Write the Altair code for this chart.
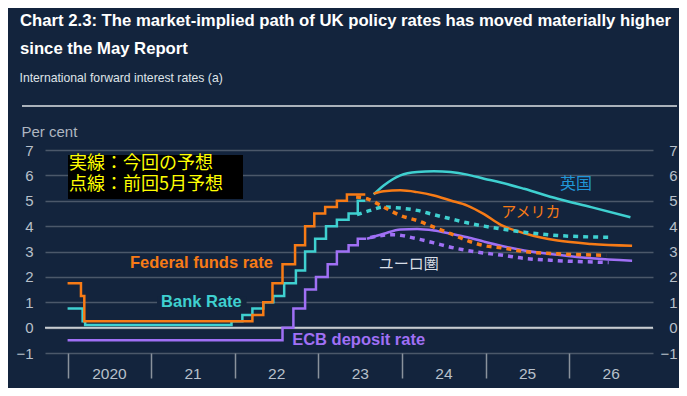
import altair as alt
import pandas as pd

BG = "#13243d"
TEAL = "#3fd0d0"
ORANGE = "#f77b16"
PURPLE = "#a070f5"
GRID = "#4b586a"
LABEL = "#b8c0ca"
SANS = "Liberation Sans"
CJK = "Noto Sans CJK JP"

# ---- realised policy rates (step lines) ----
bank_x = [2020.0, 2020.18, 2020.21, 2021.96, 2022.09, 2022.21, 2022.34, 2022.46, 2022.59,
          2022.73, 2022.84, 2022.96, 2023.09, 2023.22, 2023.36, 2023.47, 2023.56]
bank_y = [0.75, 0.25, 0.1, 0.25, 0.5, 0.75, 1.0, 1.25, 1.75,
          2.25, 3.0, 3.5, 4.0, 4.25, 4.5, 5.0, 5.0]
fed_x = [2020.0, 2020.16, 2020.2, 2022.21, 2022.34, 2022.45, 2022.57, 2022.72, 2022.84,
         2022.95, 2023.08, 2023.22, 2023.34, 2023.56]
fed_y = [1.75, 1.25, 0.25, 0.5, 1.0, 1.75, 2.5, 3.25, 4.0,
         4.5, 4.75, 5.0, 5.25, 5.25]
ecb_x = [2020.0, 2022.57, 2022.70, 2022.84, 2022.97, 2023.11, 2023.22, 2023.36, 2023.47, 2023.57]
ecb_y = [-0.5, 0.0, 0.75, 1.5, 2.0, 2.5, 3.0, 3.25, 3.5, 3.5]

# ---- current market-implied paths (solid) ----
uk_fwd_x = [2023.66, 2023.78, 2023.98, 2024.18, 2024.38, 2024.58, 2024.78, 2024.98,
            2025.18, 2025.46, 2025.86, 2026.26, 2026.73]
uk_fwd_y = [5.25, 5.6, 6.0, 6.13, 6.16, 6.13, 6.03, 5.87, 5.72, 5.47, 5.08, 4.75, 4.35]
us_fwd_x = [2023.66, 2023.78, 2023.98, 2024.18, 2024.38, 2024.58, 2024.78, 2024.98,
            2025.18, 2025.46, 2025.86, 2026.26, 2026.75]
us_fwd_y = [5.28, 5.37, 5.41, 5.34, 5.21, 5.01, 4.81, 4.47, 4.05, 3.72, 3.43, 3.30, 3.23]
ea_fwd_x = [2023.58, 2023.78, 2023.98, 2024.18, 2024.38, 2024.58, 2024.78, 2024.98,
            2025.18, 2025.46, 2025.86, 2026.26, 2026.75]
ea_fwd_y = [3.5, 3.70, 3.87, 3.89, 3.83, 3.70, 3.56, 3.39, 3.23, 3.04, 2.87, 2.73, 2.64]

# ---- May Report paths (dotted) ----
uk_may_x = [2023.46, 2023.62, 2023.78, 2023.98, 2024.18, 2024.38, 2024.58, 2024.78,
            2024.98, 2025.18, 2025.46, 2025.86, 2026.47]
uk_may_y = [4.45, 4.62, 4.75, 4.71, 4.62, 4.45, 4.29, 4.13, 4.0, 3.89, 3.76, 3.63, 3.56]
us_may_x = [2023.45, 2023.58, 2023.78, 2023.98, 2024.18, 2024.38, 2024.58, 2024.78,
            2024.98, 2025.18, 2025.46, 2025.86, 2026.44]
us_may_y = [5.15, 5.08, 4.75, 4.42, 4.22, 3.96, 3.70, 3.43, 3.23, 3.15, 3.0, 2.91, 2.85]
ea_may_x = [2023.62, 2023.78, 2023.90, 2024.18, 2024.38, 2024.58, 2024.78, 2024.98,
            2025.18, 2025.46, 2025.86, 2026.47]
ea_may_y = [3.55, 3.64, 3.66, 3.5, 3.34, 3.17, 3.04, 2.94, 2.86, 2.73, 2.64, 2.57]

year_ticks = [2020, 2021, 2022, 2023, 2024, 2025, 2026]
year_label_pos = [2020.5, 2021.5, 2022.5, 2023.5, 2024.5, 2025.5, 2026.5]
year_labels = ["2020", "21", "22", "23", "24", "25", "26"]
y_ticks = [-1, 0, 1, 2, 3, 4, 5, 6, 7]

title_lines = ["Chart 2.3: The market-implied path of UK policy rates has moved materially higher",
               "since the May Report"]
subtitle = "International forward interest rates (a)"
legend_lines = ["実線：今回の予想", "点線：前回5月予想"]


def frame(xs, ys, series):
    return pd.DataFrame({"year": xs, "value": ys, "series": series})


steps = pd.concat([frame(bank_x, bank_y, "UK"), frame(fed_x, fed_y, "US"), frame(ecb_x, ecb_y, "EA")])
fwd = pd.concat([frame(uk_fwd_x, uk_fwd_y, "UK"), frame(us_fwd_x, us_fwd_y, "US"), frame(ea_fwd_x, ea_fwd_y, "EA")])
may = pd.concat([frame(uk_may_x, uk_may_y, "UK"), frame(us_may_x, us_may_y, "US"), frame(ea_may_x, ea_may_y, "EA")])

xscale = alt.Scale(domain=[2019.73, 2027.0], nice=False, zero=False)
yscale = alt.Scale(domain=[-1, 7], nice=False, zero=False)
X = alt.X("year:Q", scale=xscale,
          axis=alt.Axis(values=year_ticks, labels=False, tickSize=25, tickColor="#8a929c",
                        tickWidth=1.5, domain=False, grid=False, title=None))
Y = alt.Y("value:Q", scale=yscale,
          axis=alt.Axis(values=y_ticks, grid=True, gridColor=GRID, gridWidth=1.5, domain=False,
                        ticks=False, tickSize=0, labelPadding=12, labelFontSize=15, labelFont=SANS,
                        labelColor=LABEL, title=None))
color = alt.Color("series:N", scale=alt.Scale(domain=["UK", "US", "EA"], range=[TEAL, ORANGE, PURPLE]),
                  legend=None)

step_lines = alt.Chart(steps).mark_line(interpolate="step-after", strokeWidth=2.5).encode(
    x=X, y=Y, color=color, detail="series:N")
fwd_lines = alt.Chart(fwd).mark_line(interpolate="monotone", strokeWidth=2.5).encode(
    x=X, y=Y, color=color, detail="series:N")
may_lines = alt.Chart(may).mark_line(interpolate="monotone", strokeWidth=3.5, strokeDash=[5, 5]).encode(
    x=X, y=Y, color=color, detail="series:N")

# label backdrop for "Bank Rate"
backdrop = alt.Chart(pd.DataFrame({"year": [2021.07], "year2": [2022.14], "value": [0.82], "value2": [1.22]})
                     ).mark_rect(color=BG).encode(x=X, x2="year2:Q", y=Y, y2="value2:Q")

year_text = alt.Chart(pd.DataFrame({"year": year_label_pos, "label": year_labels})).mark_text(
    font=SANS, fontSize=15.5, color=LABEL, baseline="middle", align="center").encode(
    x=X, y=alt.value(223.5), text="label:N")


def series_label(text, year, value, col, size, font, weight="bold"):
    return alt.Chart(pd.DataFrame({"year": [year], "value": [value], "t": [text]})).mark_text(
        font=font, fontSize=size, fontWeight=weight, color=col, align="center", baseline="middle").encode(
        x=X, y=Y, text="t:N")


labels = [
    series_label("Federal funds rate", 2021.6, 2.54, ORANGE, 16.5, SANS),
    series_label("Bank Rate", 2021.6, 1.02, TEAL, 16.5, SANS),
    series_label("ECB deposit rate", 2023.48, -0.49, PURPLE, 16.5, SANS),
    series_label("英国", 2026.08, 5.65, "#2196d8", 16, CJK, "normal"),
    series_label("アメリカ", 2025.54, 4.54, ORANGE, 15, CJK, "normal"),
    series_label("ユーロ圏", 2024.08, 2.5, "#d8dee6", 15, CJK, "normal"),
]


def px_text(text, x, y, size, font, col, weight="normal", baseline="alphabetic"):
    return alt.Chart(pd.DataFrame({"t": [text]})).mark_text(
        font=font, fontSize=size, fontWeight=weight, color=col, align="left", baseline=baseline).encode(
        x=alt.value(x), y=alt.value(y), text="t:N")


title1 = px_text(title_lines[0], -25, -124, 16.7, SANS, "#ffffff", "bold")
title2 = px_text(title_lines[1], -25, -96.5, 16.7, SANS, "#ffffff", "bold")
sub = px_text(subtitle, -25.5, -68.3, 12.2, SANS, "#dfe3e8")
percent = px_text("Per cent", -23.5, -13.3, 15, SANS, "#aeb6c0")
separator = alt.Chart(pd.DataFrame({"v": [0]})).mark_rule(color="#aab2bb", strokeWidth=2).encode(
    x=alt.value(-23), x2=alt.value(632), y=alt.value(-44))
legend_box = alt.Chart(pd.DataFrame({"v": [0]})).mark_rect(color="#000000").encode(
    x=alt.value(23), x2=alt.value(198), y=alt.value(5), y2=alt.value(49))
legend1 = px_text(legend_lines[0], 24, 14, 18, CJK, "#ffff00", "normal", "middle")
legend2 = px_text(legend_lines[1], 24, 35, 18, CJK, "#ffff00", "normal", "middle")

main = alt.layer(backdrop, step_lines, fwd_lines, may_lines, year_text, *labels,
                 title1, title2, sub, percent, separator, legend_box, legend1, legend2)

right = alt.Chart(pd.DataFrame({"value": [0]})).mark_rule(color="#c8cdd2", strokeWidth=2).encode(
    y=alt.Y("value:Q", scale=yscale,
            axis=alt.Axis(values=y_ticks, orient="right", grid=False, domain=False, ticks=False, tickSize=0,
                          labelAlign="right", labelPadding=24, labelFontSize=15, labelFont=SANS,
                          labelColor=LABEL, title=None)))

chart = alt.layer(right, main).resolve_scale(y="independent").properties(
    width=608, height=203,
    autosize=alt.AutoSizeParams(type="none"),
    padding={"left": 37, "top": 142, "right": 26, "bottom": 35},
    background=BG,
).configure_view(stroke=None)

chart.save("out.html", embed_options={"renderer": "svg", "actions": False})
